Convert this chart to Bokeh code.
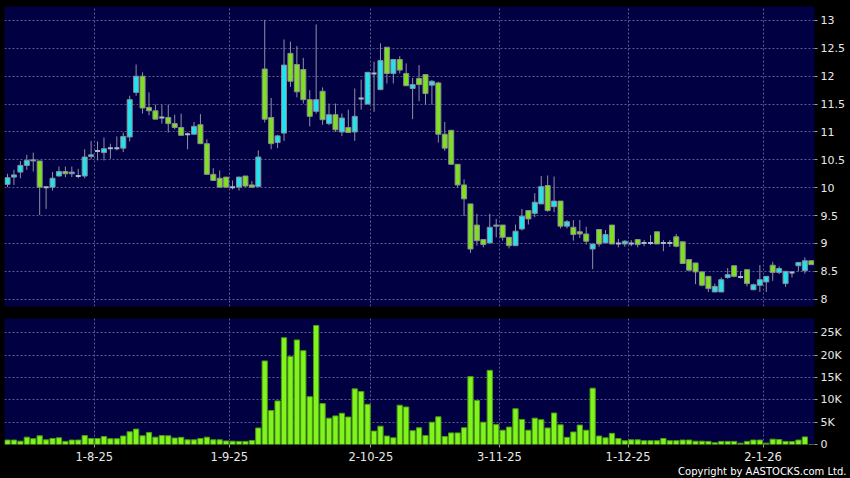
from bokeh.plotting import figure
from bokeh.models import ColumnDataSource, FixedTicker, Range1d, Title
from bokeh.layouts import column
from bokeh.embed import file_html
from bokeh.resources import INLINE

# ---- data ----
opens = [10.06, 10.19, 10.28, 10.40, 10.48, 10.48, 10.01, 10.01, 10.21, 10.29,
         10.25, 10.21, 10.21, 10.56, 10.66, 10.63, 10.71, 10.71, 10.71, 10.91,
         11.71, 12.00, 11.44, 11.38, 11.26, 11.26, 11.15, 11.08, 10.96, 10.96,
         11.13, 10.79, 10.24, 10.17, 10.19, 10.01, 10.01, 10.21, 10.05, 10.02,
         12.13, 11.26, 10.81, 10.98, 12.41, 12.21, 12.12, 11.58, 11.37, 11.73,
         11.15, 11.31, 11.00, 11.08, 11.00, 11.60, 11.50, 12.05, 11.76, 12.52,
         12.05, 12.30, 12.05, 11.78, 11.96, 12.03, 11.84, 11.88, 10.96, 11.03,
         10.42, 10.05, 9.71, 9.33, 9.07, 9.01, 9.31, 9.33, 9.11, 8.96,
         9.26, 9.59, 9.54, 9.71, 10.04, 9.66, 9.76, 9.31, 9.29, 9.21,
         9.17, 8.90, 9.25, 9.01, 9.33, 9.00, 8.99, 9.00, 9.07, 9.01,
         9.01, 9.21, 9.01, 9.01, 9.12, 9.03, 8.71, 8.65, 8.49, 8.41,
         8.13, 8.13, 8.39, 8.60, 8.40, 8.53, 8.17, 8.25, 8.31, 8.61,
         8.48, 8.28, 8.48, 8.60, 8.51, 8.69]
highs = [10.25, 10.32, 10.48, 10.59, 10.63, 10.48, 10.01, 10.28, 10.38, 10.38,
         10.38, 10.34, 10.69, 10.84, 10.83, 10.90, 10.79, 10.92, 10.99, 11.65,
         12.21, 12.07, 11.71, 11.49, 11.49, 11.49, 11.31, 11.33, 10.99, 11.18,
         11.32, 10.87, 10.35, 10.31, 10.19, 10.13, 10.20, 10.21, 10.12, 10.67,
         13.01, 11.61, 10.95, 12.66, 12.62, 12.54, 12.33, 11.75, 12.93, 11.80,
         11.51, 11.51, 11.33, 11.40, 11.78, 11.94, 12.07, 12.26, 12.59, 12.52,
         12.30, 12.36, 12.23, 11.97, 12.20, 12.03, 11.93, 11.90, 11.18, 11.03,
         10.42, 10.15, 9.71, 9.53, 9.07, 9.53, 9.44, 9.33, 9.11, 9.34,
         9.62, 9.59, 9.90, 10.21, 10.22, 10.20, 9.76, 9.42, 9.42, 9.42,
         9.30, 8.99, 9.25, 9.24, 9.33, 9.08, 9.06, 9.06, 9.07, 9.06,
         9.15, 9.21, 9.06, 9.06, 9.17, 9.03, 8.71, 8.65, 8.49, 8.41,
         8.28, 8.39, 8.56, 8.60, 8.50, 8.53, 8.28, 8.61, 8.41, 8.67,
         8.59, 8.50, 8.50, 8.66, 8.75, 8.69]
lows = [10.01, 10.05, 10.17, 10.32, 10.29, 9.51, 9.62, 9.95, 10.20, 10.19,
        10.19, 10.17, 10.17, 10.51, 10.49, 10.49, 10.52, 10.67, 10.64, 10.83,
        11.65, 11.33, 11.30, 11.23, 11.15, 10.99, 11.05, 10.94, 10.69, 10.96,
        10.79, 10.24, 10.13, 10.01, 10.01, 9.97, 9.95, 10.01, 10.00, 10.01,
        11.17, 10.69, 10.71, 10.84, 11.81, 11.62, 11.51, 11.10, 11.33, 11.13,
        11.12, 11.00, 10.93, 10.98, 10.84, 11.40, 11.50, 11.36, 11.75, 11.87,
        11.87, 12.05, 11.82, 11.23, 11.55, 11.49, 11.49, 10.81, 10.66, 10.42,
        10.00, 9.49, 8.83, 8.96, 8.93, 9.00, 9.11, 9.05, 8.91, 8.96,
        9.23, 9.34, 9.47, 9.71, 9.57, 9.56, 9.27, 9.27, 9.05, 9.10,
        8.98, 8.54, 8.94, 9.01, 8.99, 8.93, 8.94, 8.95, 8.93, 8.95,
        8.97, 8.99, 8.86, 8.94, 8.93, 8.64, 8.52, 8.27, 8.23, 8.13,
        8.13, 8.13, 8.37, 8.39, 8.37, 8.23, 8.16, 8.13, 8.13, 8.33,
        8.45, 8.22, 8.39, 8.50, 8.46, 8.62]
closes = [10.18, 10.23, 10.40, 10.49, 10.50, 10.01, 10.01, 10.17, 10.29, 10.25,
          10.28, 10.21, 10.55, 10.59, 10.66, 10.70, 10.71, 10.71, 10.92, 11.58,
          12.00, 11.43, 11.38, 11.23, 11.26, 11.15, 11.08, 10.94, 10.96, 11.10,
          10.79, 10.24, 10.13, 10.01, 10.01, 10.01, 10.19, 10.03, 10.01, 10.55,
          11.23, 10.79, 10.93, 12.20, 11.91, 11.72, 11.58, 11.28, 11.58, 11.22,
          11.31, 11.04, 11.25, 10.99, 11.28, 11.60, 12.07, 12.05, 12.28, 12.05,
          12.30, 12.11, 11.83, 11.85, 11.85, 11.69, 11.91, 10.96, 10.71, 10.42,
          10.05, 9.80, 8.90, 9.05, 8.98, 9.29, 9.33, 9.11, 8.96, 9.22,
          9.49, 9.44, 9.74, 10.02, 9.59, 9.76, 9.31, 9.39, 9.16, 9.17,
          9.04, 8.99, 8.99, 9.16, 8.99, 9.00, 9.04, 9.00, 8.98, 9.01,
          9.01, 8.99, 9.01, 9.01, 8.95, 8.64, 8.52, 8.49, 8.25, 8.19,
          8.23, 8.35, 8.44, 8.41, 8.40, 8.28, 8.26, 8.35, 8.41, 8.48,
          8.55, 8.50, 8.48, 8.66, 8.69, 8.62]
volume_k = [1.0, 1.0, 0.75, 1.65, 1.3, 1.95, 1.05, 1.35, 1.5, 0.7,
            1.0, 1.0, 2.0, 1.35, 1.35, 1.8, 1.3, 1.3, 1.9, 2.85,
            3.45, 1.95, 2.7, 1.65, 2.0, 1.95, 1.45, 1.6, 1.05, 1.05,
            1.35, 1.65, 1.05, 1.05, 0.8, 0.75, 0.7, 0.7, 0.9, 3.7,
            18.7, 7.6, 9.75, 23.9, 19.7, 23.4, 21.0, 10.7, 26.65, 9.15,
            5.9, 6.4, 7.0, 6.15, 12.45, 11.85, 9.0, 3.0, 4.1, 1.9,
            1.5, 8.8, 8.4, 3.1, 3.75, 2.0, 5.0, 6.2, 1.8, 2.6,
            2.6, 3.75, 15.2, 9.85, 5.0, 16.6, 4.5, 3.2, 3.9, 8.0,
            5.6, 3.2, 5.9, 5.55, 3.7, 7.05, 4.4, 1.6, 2.8, 4.35,
            3.2, 12.6, 1.9, 1.5, 2.5, 1.35, 0.85, 1.05, 1.05, 0.85,
            0.85, 0.85, 1.35, 0.85, 0.85, 1.0, 1.0, 0.75, 0.75, 0.7,
            0.4, 0.7, 0.7, 0.7, 0.3, 0.7, 1.0, 1.0, 0.3, 1.2,
            1.1, 0.7, 0.65, 1.0, 1.7, 0.0]
month_labels = ["1-8-25", "1-9-25", "2-10-25", "3-11-25", "1-12-25", "2-1-26"]
month_first_index = [14, 35, 57, 77, 97, 118]
price_ticks = [8, 8.5, 9, 9.5, 10, 10.5, 11, 11.5, 12, 12.5, 13]
price_tick_labels = ["8", "8.5", "9", "9.5", "10", "10.5", "11", "11.5", "12", "12.5", "13"]
volume_ticks = [0, 5, 10, 15, 20, 25]
volume_tick_labels = ["0", "5K", "10K", "15K", "20K", "25K"]

# ---- styles ----
BG = "#000000"
NAVY = "#000042"
GRID = "#5a5a8c"
UP = "#22e2f0"
DOWN = "#7ee01e"
EDGE = "#8c8c96"
WICK = "#9090a4"
DOJI = "#a8bccc"
VOL_FILL = "#80f41c"
VOL_EDGE = "#4c9a14"
TXT = "#e8e8e8"
FONT = "DejaVu Sans"

n = len(opens)
xs = list(range(n))
up_idx = [i for i in xs if closes[i] > opens[i]]
dn_idx = [i for i in xs if closes[i] < opens[i]]
dj_idx = [i for i in xs if closes[i] == opens[i]]

month_ticks = [i - 0.5 for i in month_first_index]
BODY_W = 0.78

x_range = Range1d(-0.47, 125.5)


def style_yaxis(p):
    ax = p.yaxis[0]
    ax.axis_line_color = None
    ax.major_tick_line_color = "#a0a0a0"
    ax.major_tick_out = 3
    ax.major_tick_in = 0
    ax.minor_tick_line_color = None
    ax.major_label_standoff = 3
    ax.major_label_text_color = TXT
    ax.major_label_text_font = FONT
    ax.major_label_text_font_size = "11px"


# ---- price panel ----
p1 = figure(frame_width=810, frame_height=300, x_range=x_range,
            y_range=Range1d(7.869, 13.251), y_axis_location="right",
            output_backend="svg", toolbar_location=None,
            background_fill_color=NAVY, border_fill_color=BG,
            outline_line_color=None, min_border_left=4, min_border_top=6,
            min_border_bottom=12, min_border_right=36)
p1.xaxis.visible = False
p1.xgrid.ticker = FixedTicker(ticks=month_ticks)
p1.yaxis.ticker = FixedTicker(ticks=price_ticks)
p1.yaxis.major_label_overrides = {t: s for t, s in zip(price_ticks, price_tick_labels)}
style_yaxis(p1)
for g in (p1.xgrid, p1.ygrid):
    g.grid_line_color = GRID
    g.grid_line_dash = "2 2"
    g.grid_line_width = 1

p1.segment(x0=xs, y0=lows, x1=xs, y1=highs, line_color=WICK, line_width=1)

src_up = ColumnDataSource(dict(x=up_idx, top=[closes[i] for i in up_idx],
                               bottom=[opens[i] for i in up_idx]))
src_dn = ColumnDataSource(dict(x=dn_idx, top=[opens[i] for i in dn_idx],
                               bottom=[closes[i] for i in dn_idx]))
p1.vbar(x="x", top="top", bottom="bottom", width=BODY_W, source=src_up,
        fill_color=UP, line_color=EDGE, line_width=1)
p1.vbar(x="x", top="top", bottom="bottom", width=BODY_W, source=src_dn,
        fill_color=DOWN, line_color=EDGE, line_width=1)
p1.segment(x0=[i - BODY_W / 2 for i in dj_idx], y0=[opens[i] for i in dj_idx],
           x1=[i + BODY_W / 2 for i in dj_idx], y1=[closes[i] for i in dj_idx],
           line_color=DOJI, line_width=2)

# ---- volume panel ----
p2 = figure(frame_width=810, frame_height=126, x_range=x_range,
            y_range=Range1d(0, 28.2), y_axis_location="right",
            output_backend="svg", toolbar_location=None,
            background_fill_color=NAVY, border_fill_color=BG,
            outline_line_color=None, min_border_left=4, min_border_top=0,
            min_border_bottom=34, min_border_right=36)
p2.yaxis.ticker = FixedTicker(ticks=volume_ticks)
p2.yaxis.major_label_overrides = {t: s for t, s in zip(volume_ticks, volume_tick_labels)}
style_yaxis(p2)
xa = p2.xaxis[0]
xa.ticker = FixedTicker(ticks=month_ticks)
xa.major_label_overrides = {t: s for t, s in zip(month_ticks, month_labels)}
xa.axis_line_color = None
xa.major_tick_line_color = "#a0a0a0"
xa.major_tick_out = 3
xa.major_tick_in = 0
xa.minor_tick_line_color = None
xa.major_label_standoff = 4
xa.major_label_text_color = TXT
xa.major_label_text_font = FONT
xa.major_label_text_font_size = "11.5px"
for g in (p2.xgrid, p2.ygrid):
    g.grid_line_color = GRID
    g.grid_line_dash = "2 2"
    g.grid_line_width = 1

p2.vbar(x=xs, top=volume_k, bottom=0, width=0.82,
        fill_color=VOL_FILL, line_color=VOL_EDGE, line_width=1)

p2.add_layout(Title(text="Copyright by AASTOCKS.com Ltd.", align="right",
                    text_color="#ffffff", text_font=FONT, text_font_size="10px",
                    text_font_style="normal", standoff=0, offset=-32), "below")

layout = column(p1, p2, spacing=0, styles={"background-color": BG})

open("out.html", "w").write(file_html(layout, INLINE))
